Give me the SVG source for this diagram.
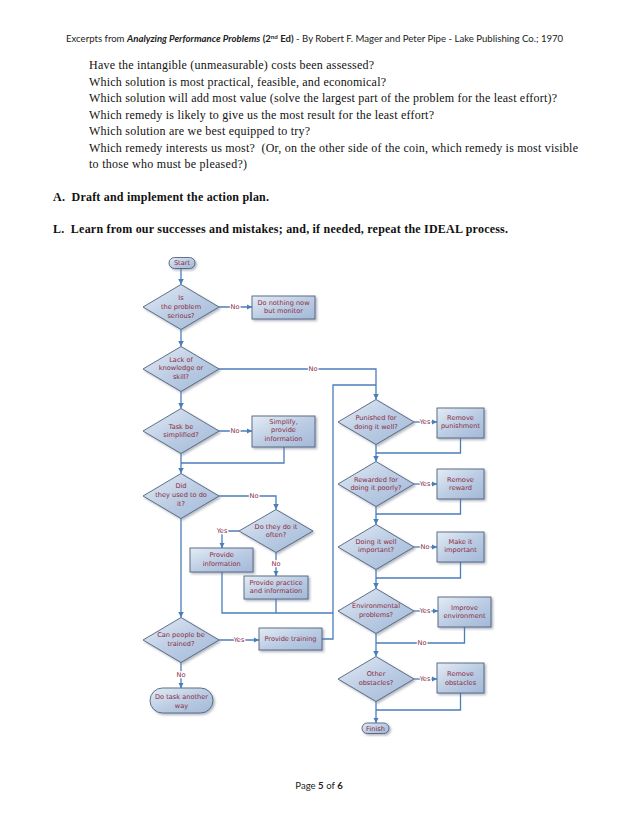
<svg xmlns="http://www.w3.org/2000/svg" width="638" height="826" viewBox="0 0 638 826">
<defs>
<linearGradient id="g" x1="0" y1="0" x2="1" y2="1">
<stop offset="0" stop-color="#e4ecf6"/>
<stop offset="0.5" stop-color="#bccde4"/>
<stop offset="1" stop-color="#a3b9d8"/>
</linearGradient>
<filter id="sh" x="-20%" y="-20%" width="150%" height="150%">
<feDropShadow dx="1.6" dy="1.6" stdDeviation="0.9" flood-color="#6f7a8c" flood-opacity="0.55"/>
</filter>
<marker id="ar" viewBox="0 0 10 10" refX="10" refY="5" markerWidth="5.5" markerHeight="5.5" markerUnits="userSpaceOnUse" orient="auto">
<path d="M0,0 L10,5 L0,10 z" fill="#4a7ebb"/>
</marker>
</defs>
<style>
.hdr{font-family:Lato,"Liberation Sans",sans-serif;font-size:9.6px;fill:#222}
.bd{font-family:"Liberation Serif",serif;font-size:12px;fill:#111}
.bb{font-family:"Liberation Serif",serif;font-size:12px;font-weight:bold;fill:#111}
.sh{fill:url(#g);stroke:#50637c;stroke-width:0.9;filter:url(#sh)}
.con{fill:none;stroke:#4a7ebb;stroke-width:1.3}
.ca{fill:none;stroke:#4a7ebb;stroke-width:1.3;marker-end:url(#ar)}
.t{font-family:"DejaVu Sans",Verdana,sans-serif;font-size:6.6px;fill:#8b2c3f;text-anchor:middle}
.lb{font-family:"DejaVu Sans",Verdana,sans-serif;font-size:6.6px;fill:#8b2c3f;text-anchor:middle;stroke:#fff;stroke-width:2.5px;paint-order:stroke;stroke-linejoin:round}
</style>
<rect width="638" height="826" fill="#fff"/>

<g id="page-text">
<text class="hdr" x="66" y="42">Excerpts from <tspan font-weight="bold" font-style="italic">Analyzing Performance Problems</tspan> <tspan font-weight="bold">(2</tspan><tspan font-weight="bold" font-size="6.2px" dy="-3.5">nd</tspan><tspan font-weight="bold" dy="3.5"> Ed)</tspan>  - By Robert F. Mager and Peter Pipe - Lake Publishing Co.; 1970</text>
<text class="bd" x="89" y="69" textLength="285">Have the intangible (unmeasurable) costs been assessed?</text>
<text class="bd" x="89" y="85.5" textLength="297">Which solution is most practical, feasible, and economical?</text>
<text class="bd" x="89" y="102" textLength="468">Which solution will add most value (solve the largest part of the problem for the least effort)?</text>
<text class="bd" x="89" y="118.5" textLength="345">Which remedy is likely to give us the most result for the least effort?</text>
<text class="bd" x="89" y="135" textLength="221">Which solution are we best equipped to try?</text>
<text class="bd" x="89" y="151.5" textLength="489" xml:space="preserve">Which remedy interests us most?  (Or, on the other side of the coin, which remedy is most visible</text>
<text class="bd" x="89" y="168" textLength="158">to those who must be pleased?)</text>
<text class="bb" x="53" y="201" textLength="216" xml:space="preserve">A.  Draft and implement the action plan.</text>
<text class="bb" x="53" y="233" textLength="455" xml:space="preserve">L.  Learn from our successes and mistakes; and, if needed, repeat the IDEAL process.</text>
<text class="hdr" x="319" y="789" text-anchor="middle">Page <tspan font-weight="bold">5</tspan> of <tspan font-weight="bold">6</tspan></text>
</g>

<g id="connectors">
<path class="ca" d="M181,268 V284.5"/>
<path class="ca" d="M219,307 H252"/>
<path class="ca" d="M181,329.5 V346.5"/>
<path class="ca" d="M219,369 H376 V399.5"/>
<path class="con" d="M322,639 H333 V385 H376"/>
<path class="ca" d="M181,391.5 V408.5"/>
<path class="ca" d="M219,431 H252"/>
<path class="con" d="M284,447 V463 H181"/>
<path class="ca" d="M181,453.5 V473.5"/>
<path class="ca" d="M219,496 H276 V509.5"/>
<path class="ca" d="M239,531 H222 V548"/>
<path class="ca" d="M276,552.5 V576"/>
<path class="con" d="M222,572 V613 H333"/>
<path class="con" d="M276,599 V613"/>
<path class="ca" d="M181,518.5 V617.5"/>
<path class="ca" d="M219,640 H259"/>
<path class="ca" d="M181,662.5 V688"/>
<path class="ca" d="M414,422 H437"/>
<path class="con" d="M460.5,438 V453 H376"/>
<path class="ca" d="M376,444.5 V461.5"/>
<path class="ca" d="M414,484 H437"/>
<path class="con" d="M460.5,499 V514 H376"/>
<path class="ca" d="M376,506.5 V524.5"/>
<path class="ca" d="M414,547 H437"/>
<path class="con" d="M460.5,562 V578 H376"/>
<path class="ca" d="M376,569.5 V588.5"/>
<path class="ca" d="M414,611 H438"/>
<path class="con" d="M464.5,627 V643 H376"/>
<path class="ca" d="M376,633.5 V656.5"/>
<path class="ca" d="M414,679 H437"/>
<path class="con" d="M460.5,693 V710 H376"/>
<path class="ca" d="M376,701.5 V723"/>
<text class="lb" x="235" y="309.3">No</text>
<text class="lb" x="313" y="371.3">No</text>
<text class="lb" x="235" y="433.3">No</text>
<text class="lb" x="254" y="498.3">No</text>
<text class="lb" x="222" y="533.3">Yes</text>
<text class="lb" x="276" y="566.3">No</text>
<text class="lb" x="239" y="642.3">Yes</text>
<text class="lb" x="181" y="677.3">No</text>
<text class="lb" x="425" y="424.3">Yes</text>
<text class="lb" x="425" y="486.3">Yes</text>
<text class="lb" x="425" y="549.3">No</text>
<text class="lb" x="425" y="613.3">Yes</text>
<text class="lb" x="422" y="645.3">No</text>
<text class="lb" x="425" y="681.3">Yes</text>
</g>

<g id="start"><rect class="sh" x="169" y="257.5" width="26" height="11" rx="5.5"/><text class="t" x="182" y="265.3">Start</text></g>
<g id="q-serious"><polygon class="sh" points="143,307 181,284.5 219,307 181,329.5"/><text class="t" x="181" y="300">Is</text><text class="t" x="181" y="309">the problem</text><text class="t" x="181" y="317.6">serious?</text></g>
<g id="do-nothing"><rect class="sh" x="252" y="296" width="63" height="23"/><text class="t" x="283.5" y="304.6">Do nothing now</text><text class="t" x="283.5" y="313.3">but monitor</text></g>
<g id="q-lack"><polygon class="sh" points="143,369 181,346.5 219,369 181,391.5"/><text class="t" x="181" y="361.6">Lack of</text><text class="t" x="181" y="370.3">knowledge or</text><text class="t" x="181" y="378.6">skill?</text></g>
<g id="q-simplify"><polygon class="sh" points="143,431 181,408.5 219,431 181,453.5"/><text class="t" x="181" y="429">Task be</text><text class="t" x="181" y="437.3">simplified?</text></g>
<g id="simplify"><rect class="sh" x="252" y="416" width="63" height="31"/><text class="t" x="283.5" y="424">Simplify,</text><text class="t" x="283.5" y="432.3">provide</text><text class="t" x="283.5" y="440.6">information</text></g>
<g id="q-used"><polygon class="sh" points="143,496 181,473.5 219,496 181,518.5"/><text class="t" x="181" y="488.3">Did</text><text class="t" x="181" y="497.3">they used to do</text><text class="t" x="181" y="505.6">it?</text></g>
<g id="q-often"><polygon class="sh" points="239,531 276,509.5 313,531 276,552.5"/><text class="t" x="276" y="529">Do they do it</text><text class="t" x="276" y="537.3">often?</text></g>
<g id="provide-info"><rect class="sh" x="190" y="548" width="63" height="24"/><text class="t" x="221.7" y="557.3">Provide</text><text class="t" x="221.7" y="565.6">information</text></g>
<g id="provide-practice"><rect class="sh" x="244" y="576" width="64" height="23"/><text class="t" x="276" y="584.6">Provide practice</text><text class="t" x="276" y="593.3">and information</text></g>
<g id="q-trained"><polygon class="sh" points="143,640 181,617.5 219,640 181,662.5"/><text class="t" x="181" y="637.3">Can people be</text><text class="t" x="181" y="645.6">trained?</text></g>
<g id="provide-training"><rect class="sh" x="259" y="628" width="63" height="22"/><text class="t" x="290.5" y="641.3">Provide training</text></g>
<g id="another-way"><rect class="sh" x="150" y="688" width="63" height="25" rx="12.5"/><text class="t" x="181.5" y="699">Do task another</text><text class="t" x="181.5" y="708">way</text></g>
<g id="q-punished"><polygon class="sh" points="338,422 376,399.5 414,422 376,444.5"/><text class="t" x="376" y="420">Punished for</text><text class="t" x="376" y="429">doing it well?</text></g>
<g id="remove-punishment"><rect class="sh" x="437" y="408" width="47" height="30"/><text class="t" x="460.5" y="420">Remove</text><text class="t" x="460.5" y="428.3">punishment</text></g>
<g id="q-rewarded"><polygon class="sh" points="338,484 376,461.5 414,484 376,506.5"/><text class="t" x="376" y="481.6">Rewarded for</text><text class="t" x="376" y="490">doing it poorly?</text></g>
<g id="remove-reward"><rect class="sh" x="437" y="469" width="47" height="30"/><text class="t" x="460.5" y="482">Remove</text><text class="t" x="460.5" y="490.3">reward</text></g>
<g id="q-important"><polygon class="sh" points="338,547 376,524.5 414,547 376,569.5"/><text class="t" x="376" y="544">Doing it well</text><text class="t" x="376" y="552.3">important?</text></g>
<g id="make-important"><rect class="sh" x="437" y="532" width="47" height="30"/><text class="t" x="460.5" y="544">Make it</text><text class="t" x="460.5" y="552.3">important</text></g>
<g id="q-environment"><polygon class="sh" points="338,611 376,588.5 414,611 376,633.5"/><text class="t" x="376" y="608">Environmental</text><text class="t" x="376" y="616.6">problems?</text></g>
<g id="improve-environment"><rect class="sh" x="438" y="597" width="53" height="30"/><text class="t" x="464.5" y="609.6">Improve</text><text class="t" x="464.5" y="618">environment</text></g>
<g id="q-obstacles"><polygon class="sh" points="338,679 376,656.5 414,679 376,701.5"/><text class="t" x="376" y="676.3">Other</text><text class="t" x="376" y="684.6">obstacles?</text></g>
<g id="remove-obstacles"><rect class="sh" x="437" y="663" width="47" height="30"/><text class="t" x="460.5" y="676.3">Remove</text><text class="t" x="460.5" y="684.6">obstacles</text></g>
<g id="finish"><rect class="sh" x="362" y="723" width="27" height="10.5" rx="5.2"/><text class="t" x="375.5" y="730.5">Finish</text></g>
</svg>
